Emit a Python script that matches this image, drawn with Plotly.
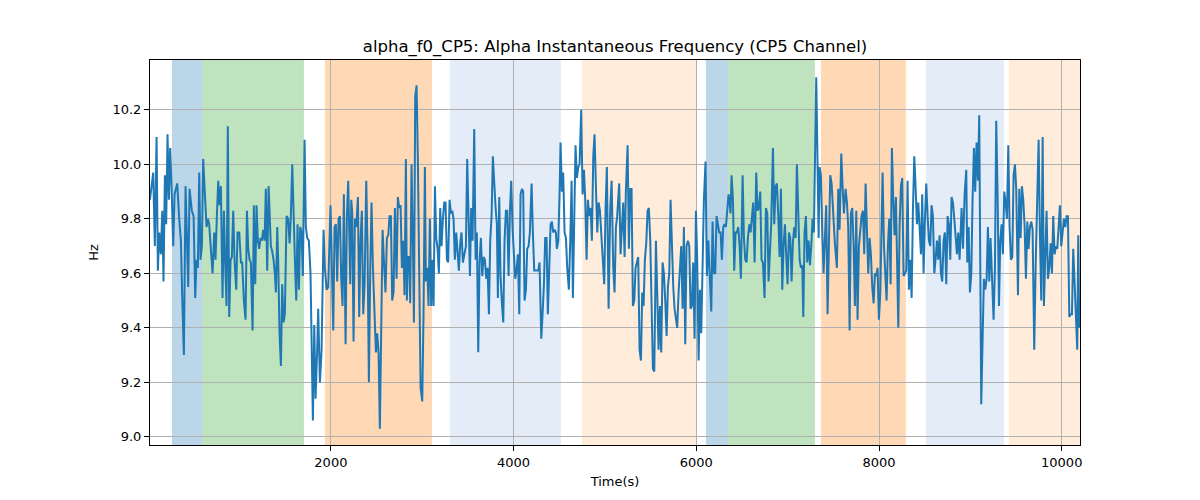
import plotly.graph_objects as go

# ---- data (time in s, frequency in Hz) ----
time_s = [
    19, 55, 73, 92, 106, 121, 139, 154, 168, 183, 197, 212, 227, 241, 256, 274, 289, 318, 340, 358,
    373, 391, 409, 424, 438, 453, 478, 497, 515, 529, 544, 559, 573, 588, 602, 621, 639, 654, 668, 686,
    705, 723, 737, 752, 767, 781, 796, 814, 829, 843, 858, 872, 887, 902, 916, 931, 945, 964, 978, 997,
    1015, 1029, 1048, 1066, 1081, 1095, 1110, 1124, 1143, 1157, 1172, 1186, 1201, 1215, 1230, 1245, 1259, 1274, 1288, 1303,
    1318,
    1343, 1358, 1372, 1387, 1398, 1413, 1423, 1438, 1453, 1467, 1482, 1496, 1515, 1533, 1548, 1562, 1577, 1591, 1606, 1621,
    1635, 1650, 1664, 1679, 1693, 1712, 1726, 1741, 1759, 1777, 1803, 1818, 1832, 1850, 1861, 1880, 1898, 1920, 1934, 1953,
    1971, 1996, 2011, 2026, 2040, 2055, 2069, 2084, 2099, 2113, 2128, 2142, 2161, 2175, 2190, 2201, 2212, 2223, 2234, 2248,
    2263, 2277, 2296, 2310, 2325, 2339, 2354, 2369, 2387, 2401, 2416, 2431, 2445, 2460, 2478, 2493, 2507, 2522, 2536,
    2566, 2584, 2598, 2613, 2628, 2642, 2657, 2671, 2686, 2701, 2719, 2733, 2748, 2763, 2777, 2792, 2806, 2821, 2832, 2843,
    2858, 2868, 2883, 2898, 2909, 2923, 2938, 2952, 2967, 2982, 3000, 3014, 3029, 3040, 3055, 3069, 3084, 3098, 3113, 3124,
    3139, 3153, 3168, 3182, 3197, 3211, 3226, 3241, 3255, 3270, 3284, 3299, 3314, 3328, 3343, 3357, 3372, 3387, 3401, 3416,
    3430, 3445, 3460, 3478, 3492, 3507, 3522, 3536, 3551, 3569, 3584, 3598, 3613, 3627, 3642, 3657, 3671, 3686, 3700, 3715,
    3730, 3744, 3759, 3773, 3788, 3803, 3817, 3828, 3843,
    3857, 3872, 3887, 3901, 3916, 3930, 3945, 3960, 3974, 3989, 4003, 4018, 4032, 4047, 4062, 4076, 4091, 4105, 4120, 4135,
    4149, 4164, 4178, 4197, 4211, 4226, 4240, 4255, 4270, 4284, 4303, 4317, 4332, 4346, 4361, 4375, 4390, 4405, 4419, 4434,
    4449, 4463, 4474, 4489, 4503, 4514, 4529, 4543, 4558, 4573, 4587, 4605, 4620, 4635, 4649, 4664, 4678, 4693, 4708, 4722,
    4740, 4755, 4770, 4784, 4799, 4813, 4828, 4843, 4857, 4872, 4886, 4901, 4916, 4930, 4945, 4959, 4978, 4992, 5007, 5021,
    5040, 5058, 5073, 5091,
    5105, 5120, 5134, 5156, 5171, 5186, 5200, 5215, 5229, 5248, 5262, 5277, 5291, 5306, 5321, 5335, 5350, 5364, 5379, 5394,
    5408, 5423, 5437, 5452, 5467, 5481, 5496, 5510, 5525, 5540, 5558, 5572, 5587, 5602, 5616, 5631, 5645, 5660, 5675, 5689,
    5704, 5718, 5733, 5748, 5762, 5777, 5791, 5806, 5820, 5835, 5850, 5864, 5879, 5893, 5908, 5923, 5937, 5952, 5966, 5981,
    5996, 6010, 6025, 6039, 6054, 6069, 6083, 6101, 6116, 6131, 6145, 6164, 6178, 6193, 6207, 6222, 6236, 6251, 6266, 6280,
    6295, 6309, 6324, 6339, 6353,
    6364, 6375, 6386, 6401, 6415, 6430, 6444, 6459, 6474, 6488, 6507, 6521, 6536, 6550, 6565, 6580, 6594, 6609, 6623, 6638,
    6656, 6671, 6685, 6700, 6714, 6729, 6747, 6762, 6777, 6791, 6806, 6820, 6839, 6853, 6868, 6882, 6897, 6912, 6926, 6941,
    6955, 6970, 6985, 6999, 7014, 7028, 7043, 7057, 7072, 7087, 7101, 7116, 7131, 7145, 7160, 7171, 7185, 7200, 7214, 7229,
    7244, 7258, 7273, 7287, 7298, 7313, 7328, 7339, 7349, 7364, 7379, 7393, 7408, 7422, 7437, 7452, 7466, 7481, 7495, 7517,
    7539, 7554, 7568, 7587, 7601, 7616,
    7634, 7649, 7663, 7678, 7692, 7707, 7722, 7736, 7751, 7765, 7780, 7795, 7809, 7824, 7838, 7853, 7868, 7882, 7897, 7911,
    7926, 7941, 7955, 7970, 7984, 7999, 8014, 8028, 8039, 8054, 8068, 8083, 8097, 8112, 8127, 8141, 8156, 8170, 8185, 8200,
    8211, 8225, 8240, 8254, 8269, 8284, 8298, 8313, 8327, 8342, 8357, 8371, 8386, 8400, 8415, 8430, 8444, 8459, 8473, 8488,
    8503, 8517, 8532, 8546, 8561, 8575, 8590, 8605, 8619, 8634, 8648, 8663, 8678, 8692, 8707, 8721, 8736, 8751, 8765, 8780,
    8794, 8809, 8824, 8838, 8853, 8867, 8882,
    8904, 8919, 8937, 8955, 8966, 8981, 8995, 9010, 9024, 9039, 9053, 9068, 9083, 9097, 9108, 9119, 9134, 9148, 9163, 9178,
    9192, 9207, 9221, 9236, 9254, 9269, 9283, 9298, 9313, 9327, 9342, 9356, 9371, 9386, 9400, 9415, 9429, 9444, 9459, 9473,
    9488, 9502, 9521, 9535, 9550, 9564, 9579, 9594, 9608, 9623, 9637, 9652, 9667, 9681, 9699, 9714, 9729, 9747, 9761, 9776,
    9791, 9805, 9820, 9834, 9849, 9864, 9878, 9893, 9907, 9922, 9937, 9951, 9966, 9980, 9995, 10010, 10024, 10039, 10053, 10068,
    10083, 10097, 10112, 10126, 10141, 10155, 10170, 10181, 10192,
]

freq_hz = [
    9.87, 9.97, 9.70, 10.10, 9.61, 9.75, 9.67, 9.83, 9.57, 9.96, 9.78, 10.11, 9.87, 10.06, 9.92, 9.70, 9.89, 9.93, 9.80, 9.72,
    9.51, 9.30, 9.92, 9.77, 9.55, 9.91, 9.83, 9.81, 9.51, 9.65, 9.62, 9.97, 9.65, 9.70, 10.02, 9.89, 9.77, 9.80, 9.78, 9.69,
    9.60, 9.75, 9.65, 9.81, 9.94, 9.85, 9.92, 9.51, 9.83, 9.64, 9.48, 10.14, 9.44, 9.65, 9.66, 9.83, 9.65, 9.54, 9.75, 9.75,
    9.64, 9.64, 9.50, 9.43, 9.83, 9.69, 9.65, 9.64, 9.39, 9.85, 9.56, 9.85, 9.72, 9.69, 9.73, 9.72, 9.76, 9.72, 9.91, 9.61,
    9.92,
    9.70, 9.68, 9.65, 9.60, 9.53, 9.77, 9.65, 9.38, 9.26, 9.56, 9.42, 9.45, 9.81, 9.80, 9.71, 9.81, 10.00, 9.80, 9.65, 9.50,
    9.78, 9.54, 9.77, 9.75, 9.59, 10.09, 9.77, 9.73, 9.72, 9.60, 9.06, 9.41, 9.14, 9.32, 9.47, 9.20, 9.32, 9.76, 9.62, 9.54,
    9.55, 9.85, 9.64, 9.39, 9.77, 9.78, 9.57, 9.80, 9.81, 9.58, 9.48, 9.89, 9.34, 9.81, 9.94, 9.77, 9.56, 9.87, 9.82, 9.35,
    9.80, 9.77, 9.88, 9.44, 9.73, 9.83, 9.45, 9.56, 9.94, 9.70, 9.20, 9.62, 9.86, 9.62, 9.42, 9.31, 9.38, 9.31, 9.03,
    9.76, 9.62, 9.53, 9.73, 9.74, 9.81, 9.81, 9.50, 9.53, 9.84, 9.58, 9.88, 9.84, 9.85, 9.62, 9.72, 9.52, 10.02, 9.50, 9.66,
    9.66, 9.49, 10.00, 9.70, 9.42, 10.25, 10.29, 10.02, 9.65, 9.18, 9.13, 9.45, 9.99, 9.57, 9.62, 9.48, 9.80, 9.48, 9.65, 9.48,
    9.92, 9.73, 9.69, 9.60, 9.84, 9.70, 9.80, 9.86, 9.86, 9.65, 9.64, 9.87, 9.82, 9.83, 9.80, 9.65, 9.75, 9.66, 9.61, 9.71,
    9.75, 9.64, 9.67, 9.70, 10.02, 9.81, 9.59, 9.84, 9.72, 10.13, 9.65, 9.75, 9.31, 9.64, 9.73, 9.59, 9.66, 9.65, 9.58, 9.62,
    9.45, 9.72, 9.81, 10.03, 9.92, 9.84, 9.78, 9.51, 9.88,
    9.59, 9.49, 9.42, 9.72, 9.83, 9.83, 9.59, 9.83, 9.94, 9.76, 9.67, 9.58, 9.61, 9.67, 9.45, 9.89, 9.91, 9.90, 9.50, 9.54,
    9.69, 9.70, 9.75, 9.93, 9.75, 9.61, 9.61, 9.61, 9.61, 9.64, 9.36, 9.45, 9.56, 9.73, 9.73, 9.45, 9.61, 9.78, 9.79, 9.75,
    9.76, 9.75, 9.69, 9.72, 9.89, 10.08, 9.90, 9.97, 9.75, 9.73, 9.62, 9.54, 9.72, 9.94, 9.51, 9.83, 10.07, 9.95, 9.99, 10.00,
    10.20, 9.89, 9.98, 9.87, 9.65, 9.87, 9.81, 9.84, 9.72, 10.03, 10.11, 9.92, 9.75, 9.86, 9.83, 9.75, 9.62, 9.56, 9.84, 9.99,
    9.47, 9.84, 9.94, 9.62,
    9.53, 9.77, 9.81, 9.93, 9.67, 9.77, 9.86, 9.66, 9.90, 10.07, 9.69, 9.91, 9.91, 9.48, 9.50, 9.62, 9.64, 9.66, 9.32, 9.28,
    9.53, 9.48, 9.65, 9.71, 9.83, 9.84, 9.72, 9.45, 9.25, 9.24, 9.72, 9.53, 9.32, 9.48, 9.31, 9.64, 9.60, 9.50, 9.37, 9.55,
    9.60, 9.87, 9.67, 9.55, 9.47, 9.43, 9.40, 9.53, 9.60, 9.70, 9.47, 9.77, 9.34, 9.70, 9.72, 9.70, 9.47, 9.48, 9.64, 9.36,
    9.83, 9.65, 9.28, 9.54, 9.38, 9.65, 9.87, 10.01, 9.59, 9.72, 9.60, 9.46, 9.79, 9.60, 9.60, 9.81, 9.78, 9.75, 9.75, 9.65,
    9.77, 9.78, 9.77, 9.84, 9.89,
    9.86, 9.82, 9.96, 9.87, 9.61, 9.75, 9.75, 9.77, 9.70, 9.58, 9.96, 9.73, 9.65, 9.64, 9.73, 9.78, 9.75, 9.82, 9.86, 9.64,
    9.97, 9.83, 9.84, 9.90, 9.65, 9.64, 9.51, 9.84, 9.82, 9.57, 9.67, 9.78, 10.06, 9.78, 9.92, 9.93, 9.81, 9.66, 9.91, 9.54,
    9.70, 9.78, 9.66, 9.56, 9.75, 9.73, 9.57, 9.71, 9.77, 9.73, 10.00, 9.81, 9.65, 9.62, 9.63, 9.44, 9.75, 9.81, 9.64, 9.72,
    9.63, 9.70, 9.80, 9.75, 10.04, 10.32, 9.98, 9.73, 9.99, 9.96, 9.75, 9.60, 9.73, 9.85, 9.45, 9.73, 9.96, 9.93, 9.82, 9.71,
    9.62, 9.91, 9.76, 10.04, 9.92, 9.82,
    9.91, 9.86, 9.77, 9.39, 9.82, 9.84, 9.70, 9.48, 9.83, 9.43, 9.70, 9.76, 9.81, 9.83, 9.67, 9.93, 9.73, 9.60, 9.73, 9.67,
    9.55, 9.49, 9.60, 9.59, 9.62, 9.43, 9.53, 9.87, 9.97, 9.70, 9.62, 9.50, 9.70, 9.80, 9.56, 10.06, 9.87, 9.74, 9.88, 9.62,
    9.40, 9.77, 9.92, 9.95, 9.59, 9.60, 9.61, 9.94, 9.54, 9.65, 9.51, 9.83, 10.03, 9.92, 9.78, 9.86, 9.75, 9.67, 9.89, 9.60,
    9.80, 9.93, 9.81, 9.72, 9.70, 9.85, 9.81, 9.60, 9.65, 9.72, 9.65, 9.74, 9.60, 9.57, 9.72, 9.75, 9.56, 9.81, 9.78, 9.65,
    9.88, 9.86, 9.80, 9.73, 9.67, 9.75, 9.65,
    9.84, 9.69, 9.89, 9.98, 9.64, 9.77, 9.53, 9.60, 9.87, 10.06, 9.90, 10.08, 9.94, 10.18, 9.65, 9.12, 9.36, 9.58, 9.54, 9.58,
    9.77, 9.57, 9.73, 9.62, 9.43, 9.62, 10.16, 9.89, 9.48, 9.72, 9.78, 9.67, 9.90, 9.86, 9.80, 10.07, 9.77, 9.65, 9.66, 9.96,
    10.00, 9.91, 9.52, 9.91, 9.73, 9.92, 9.87, 9.77, 9.58, 9.79, 9.69, 9.77, 9.79, 9.76, 9.32, 9.62, 9.84, 10.09, 9.75, 9.50,
    10.10, 9.48, 9.66, 9.83, 9.58, 9.62, 9.71, 9.60, 9.81, 9.67, 9.70, 9.69, 9.77, 9.85, 9.70, 9.75, 9.80, 9.77, 9.81, 9.81,
    9.44, 9.45, 9.45, 9.69, 9.57, 9.44, 9.32, 9.74, 9.40,
]

# shaded intervals (s) and their colours
band_start = [260, 590, 1935, 3303, 4748, 6105, 6346, 7364, 8513, 9422]
band_end = [590, 1705, 3106, 4518, 5996, 6346, 7298, 8294, 9367, 10200]
band_color = [
    "rgba(31,119,180,0.3)", "rgba(44,160,44,0.3)", "rgba(255,127,14,0.3)",
    "rgba(120,160,215,0.2)", "rgba(255,160,70,0.2)",
    "rgba(31,119,180,0.3)", "rgba(44,160,44,0.3)", "rgba(255,127,14,0.3)",
    "rgba(120,160,215,0.2)", "rgba(255,160,70,0.2)",
]

x_range = [20, 10200]
y_range = [8.97, 10.383]
y_ticks = [9.0, 9.2, 9.4, 9.6, 9.8, 10.0, 10.2]
x_ticks = [2000, 4000, 6000, 8000, 10000]

n = min(len(time_s), len(freq_hz))

fig = go.Figure()
for s, e, c in zip(band_start, band_end, band_color):
    fig.add_vrect(x0=s, x1=e, fillcolor=c, line_width=0, layer="below")

fig.add_trace(go.Scatter(
    x=time_s[:n], y=freq_hz[:n], mode="lines",
    line=dict(color="#1f77b4", width=2), showlegend=False,
))

font = "DejaVu Sans, sans-serif"
fig.update_layout(
    width=1200, height=500,
    margin=dict(l=142, r=128, t=52, b=63),
    paper_bgcolor="white", plot_bgcolor="white",
    font=dict(family=font, size=13, color="black"),
    title=dict(text="alpha_f0_CP5: Alpha Instantaneous Frequency (CP5 Channel)",
               x=607 / 1200, xanchor="center", y=1 - 38 / 500, yanchor="middle",
               font=dict(size=16.5, family=font)),
)
fig.update_xaxes(
    range=x_range, tickvals=x_ticks, ticktext=[str(v) for v in x_ticks],
    showgrid=True, gridcolor="#b0b0b0", gridwidth=0.8,
    showline=True, linecolor="black", linewidth=1, mirror=True,
    ticks="outside", ticklen=5, tickcolor="black", zeroline=False,
    title=dict(text="Time(s)", standoff=8, font=dict(size=13)),
    tickfont=dict(size=13),
)
fig.update_yaxes(
    range=y_range, tickvals=y_ticks, ticktext=[f"{v:.1f}" for v in y_ticks],
    showgrid=True, gridcolor="#b0b0b0", gridwidth=0.8,
    showline=True, linecolor="black", linewidth=1, mirror=True,
    ticks="outside", ticklen=5, tickcolor="black", zeroline=False,
    title=dict(text="Hz", standoff=10, font=dict(size=13)),
    tickfont=dict(size=13),
)

fig.write_html("out.html")
